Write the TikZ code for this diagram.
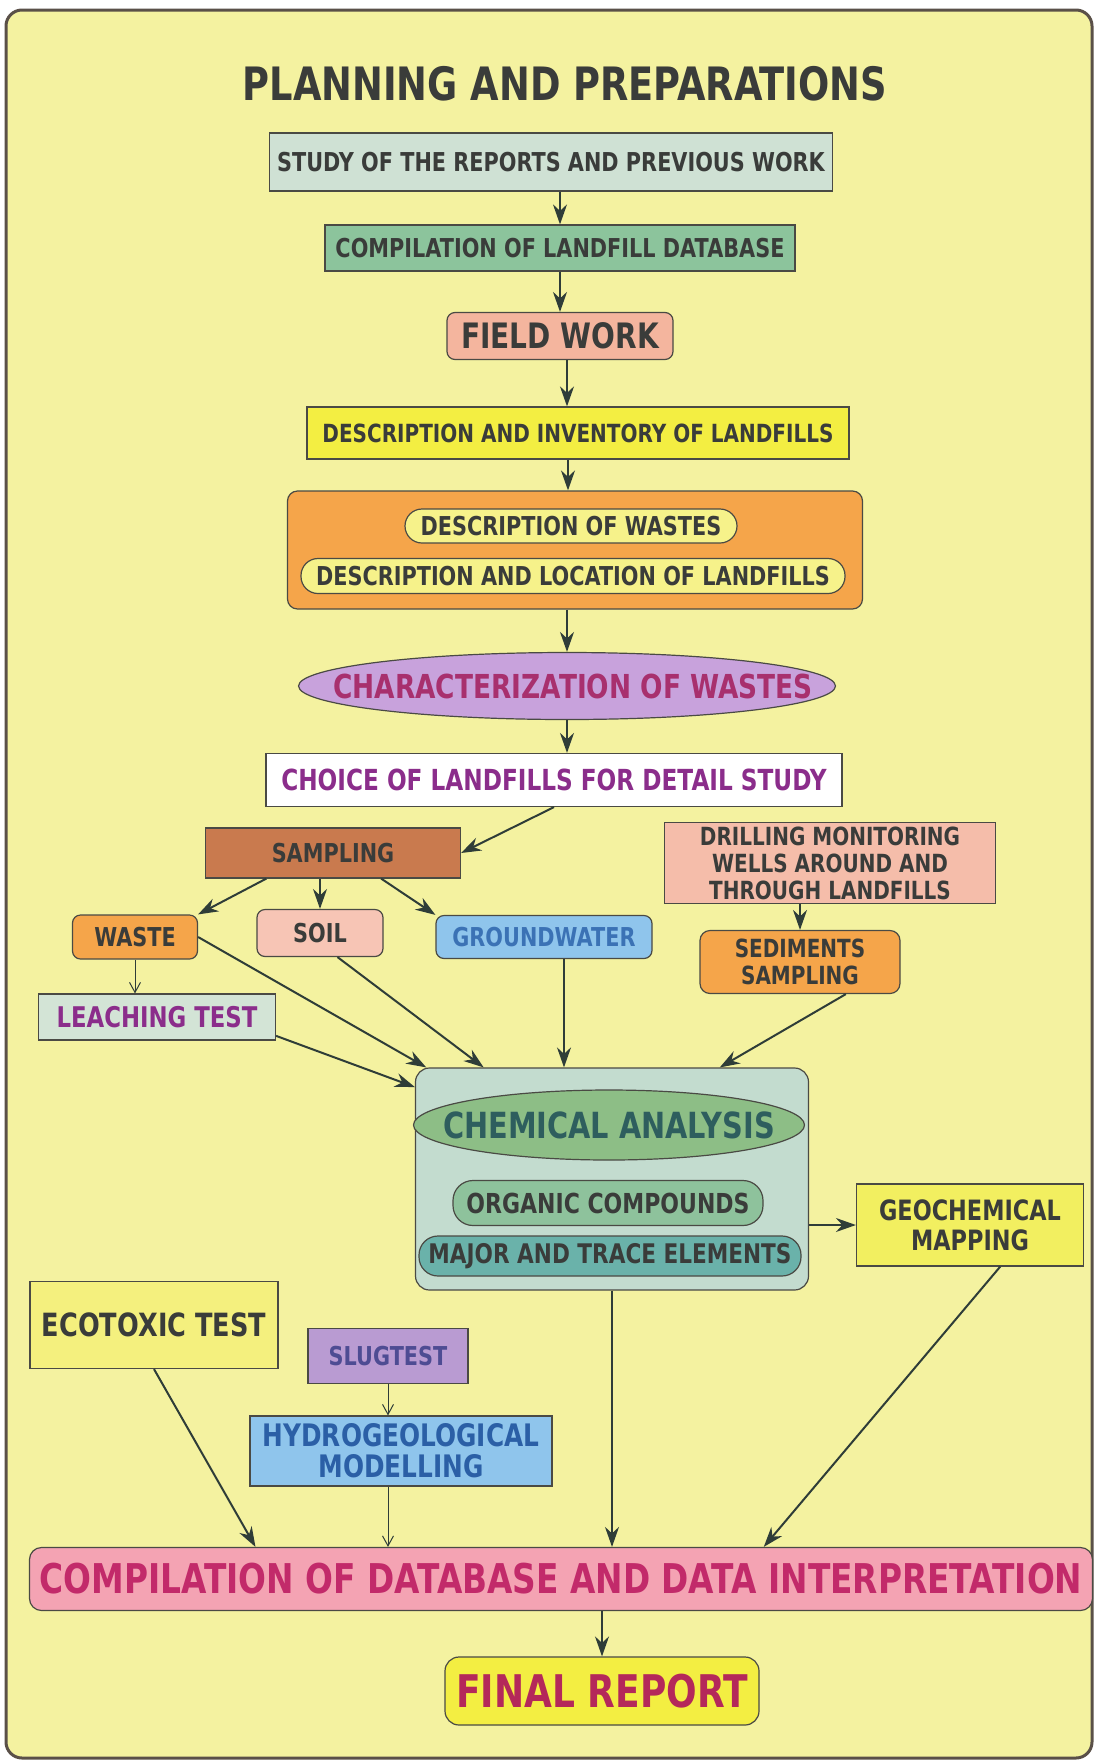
\documentclass[tikz,border=0pt]{standalone}
\usepackage{fontspec}
\setmainfont{DejaVu Sans}[FakeStretch=0.8]
\usetikzlibrary{arrows.meta,shapes.geometric}
\definecolor{paper}{HTML}{F4F2A0}
\definecolor{framec}{HTML}{5A5048}
\definecolor{edge}{HTML}{4A4A44}
\definecolor{ink}{HTML}{3A3C3A}
\definecolor{arrowc}{HTML}{2F3D38}
\definecolor{studyc}{HTML}{CFE1D4}
\definecolor{dbgreen}{HTML}{8CC49C}
\definecolor{salmon}{HTML}{F4B59E}
\definecolor{brightyellow}{HTML}{F3EE42}
\definecolor{orangec}{HTML}{F5A54A}
\definecolor{pillyellow}{HTML}{F6F28A}
\definecolor{lavender}{HTML}{C8A2DC}
\definecolor{plum}{HTML}{A8306E}
\definecolor{choicec}{HTML}{8B2D8B}
\definecolor{samplingc}{HTML}{C97A4E}
\definecolor{soilc}{HTML}{F7C5B5}
\definecolor{waterc}{HTML}{8FC5EC}
\definecolor{waterink}{HTML}{3B72B5}
\definecolor{drillc}{HTML}{F5BDAA}
\definecolor{leachc}{HTML}{D3E4D6}
\definecolor{chemc}{HTML}{C3DCCF}
\definecolor{chemgreen}{HTML}{8DBE86}
\definecolor{chemink}{HTML}{2E5E5E}
\definecolor{organicc}{HTML}{8EC29C}
\definecolor{majorc}{HTML}{6AB2AA}
\definecolor{geoc}{HTML}{F2EF60}
\definecolor{ecoc}{HTML}{F4F07E}
\definecolor{slugc}{HTML}{B99BD2}
\definecolor{slugink}{HTML}{4E4C93}
\definecolor{hydroink}{HTML}{2B5FA6}
\definecolor{interpink}{HTML}{F4A3B3}
\definecolor{interink}{HTML}{C22A6A}
\definecolor{reportink}{HTML}{B4285A}
\begin{document}
\begin{tikzpicture}[x=1pt,y=-1pt,
  fs/.style 2 args={font=\bfseries\fontsize{#1}{#2}\selectfont},
  box/.style={draw=edge,line width=1.2pt,inner sep=0pt,align=center,text=ink,fs={26}{28}},
  flow/.style={draw=arrowc,line width=2pt,-{Stealth[length=20pt,width=14pt]}},
  slim/.style={draw=arrowc,line width=1pt,-{Straight Barb[length=10pt,width=11pt]}}]
\useasboundingbox (0,0) rectangle (1096,1762);
\fill[white] (0,0) rectangle (1096,1762);
\draw[fill=paper,draw=framec,line width=3pt,rounded corners=16] (6,10) rectangle (1092,1758);
\node[fs={46}{50},text=ink] (title) at (565,84) {PLANNING AND PREPARATIONS};
\node[box,fill=studyc,minimum width=563,minimum height=58] (study) at (551,162) {STUDY OF THE REPORTS AND PREVIOUS WORK};
\node[box,fill=dbgreen,minimum width=470,minimum height=46] (landdb) at (560,248) {COMPILATION OF LANDFILL DATABASE};
\node[box,rounded corners=8,fill=salmon,minimum width=226,minimum height=47,fs={35}{38}] (field) at (560,336) {FIELD WORK};
\node[box,fill=brightyellow,minimum width=542,minimum height=52,fs={25}{28}] (inventory) at (578,433) {DESCRIPTION AND INVENTORY OF LANDFILLS};
\node[box,rounded corners=10,fill=orangec,minimum width=575,minimum height=118] (descr) at (575,550) {};
\node[box,rounded corners=17,fill=pillyellow,minimum width=332,minimum height=34] (wastes) at (571,526) {DESCRIPTION OF WASTES};
\node[box,rounded corners=17,fill=pillyellow,minimum width=544,minimum height=35] (location) at (573,576) {DESCRIPTION AND LOCATION OF LANDFILLS};
\node[box,ellipse,fill=lavender,text=plum,minimum width=537,minimum height=67,fs={33}{36}] (charact) at (567,686) {\makebox[0pt]{\hspace{12pt}CHARACTERIZATION OF WASTES}};
\node[box,fill=white,text=choicec,minimum width=576,minimum height=53,fs={29}{32}] (choice) at (554,780) {CHOICE OF LANDFILLS FOR DETAIL STUDY};
\node[box,fill=samplingc,minimum width=255,minimum height=50] (sampling) at (333,853) {SAMPLING};
\node[box,rounded corners=8,fill=orangec,minimum width=125,minimum height=44] (waste) at (135,937) {WASTE};
\node[box,rounded corners=8,fill=soilc,minimum width=126,minimum height=47] (soil) at (320,933) {SOIL};
\node[box,rounded corners=8,fill=waterc,text=waterink,minimum width=216,minimum height=43] (groundwater) at (544,937) {GROUNDWATER};
\node[box,fill=drillc,minimum width=331,minimum height=81,fs={25}{27}] (drilling) at (830,863) {DRILLING MONITORING\\WELLS AROUND AND\\THROUGH LANDFILLS};
\node[box,rounded corners=10,fill=orangec,minimum width=200,minimum height=63,fs={25}{27}] (sediments) at (800,962) {SEDIMENTS\\SAMPLING};
\node[box,fill=leachc,text=choicec,minimum width=237,minimum height=46,fs={28.5}{30}] (leaching) at (157,1017) {LEACHING TEST};
\node[box,rounded corners=14,fill=chemc,minimum width=393,minimum height=222] (chembox) at (612,1179) {};
\node[box,ellipse,fill=chemgreen,text=chemink,minimum width=391,minimum height=70,fs={36}{38}] (chemical) at (609,1125) {\makebox[0pt]{CHEMICAL ANALYSIS}};
\node[box,rounded corners=20,fill=organicc,minimum width=310,minimum height=45,fs={27.5}{30}] (organic) at (608,1203) {ORGANIC COMPOUNDS};
\node[box,rounded corners=19,fill=majorc,minimum width=382,minimum height=40,fs={27}{30}] (major) at (610,1256) {MAJOR AND TRACE ELEMENTS};
\node[box,fill=geoc,minimum width=227,minimum height=82,fs={28}{30}] (geochem) at (970,1225) {GEOCHEMICAL\\MAPPING};
\node[box,fill=ecoc,minimum width=248,minimum height=87,fs={32}{34}] (ecotoxic) at (154,1325) {ECOTOXIC TEST};
\node[box,fill=slugc,text=slugink,minimum width=160,minimum height=55] (slugtest) at (388,1356) {SLUGTEST};
\node[box,fill=waterc,text=hydroink,minimum width=302,minimum height=70,fs={31}{31}] (hydro) at (401,1451) {HYDROGEOLOGICAL\\MODELLING};
\node[box,rounded corners=12,fill=interpink,text=interink,minimum width=1063,minimum height=63,fs={41}{44}] (interpret) at (561,1579) {COMPILATION OF DATABASE AND DATA INTERPRETATION};
\node[box,rounded corners=14,fill=brightyellow,text=reportink,minimum width=314,minimum height=68,fs={45}{48}] (report) at (602,1691) {FINAL REPORT};
\draw[flow] (landdb.north |- study.south) -- (landdb.north);
\draw[flow] (landdb.south) -- (field.north);
\draw[flow] ([xshift=7]field.south) -- ([xshift=7]field.south |- inventory.north);
\draw[flow] ([xshift=-10]inventory.south) -- ([xshift=-10]inventory.south |- descr.north);
\draw[flow] (charact.north |- descr.south) -- (charact.north);
\draw[flow] (charact.south) -- (charact.south |- choice.north);
\draw[flow] (choice.south) -- (sampling.east);
\draw[flow] (sampling.-159) -- (waste.north east);
\draw[flow] (soil.north |- sampling.south) -- (soil.north);
\draw[flow] (sampling.-28) -- (groundwater.north west);
\draw[flow] (sediments.north |- drilling.south) -- (sediments.north);
\draw[slim] (waste.south) -- (waste.south |- leaching.north);
\draw[flow] (waste.east) -- (chembox.149);
\draw[flow] (soil.-54) -- (chembox.139);
\draw[flow] ([xshift=20]groundwater.south) -- ([xshift=20]groundwater.south |- chembox.north);
\draw[flow] (sediments.-35) -- (chembox.46);
\draw[flow] (leaching.-9) -- (chembox.155);
\draw[flow] (chembox.east |- geochem.west) -- (geochem.west);
\draw[slim] (slugtest.south) -- (slugtest.south |- hydro.north);
\draw[flow] (ecotoxic.south) -- (interpret.174);
\draw[slim] (hydro.south -| slugtest.south) -- (slugtest.south |- interpret.north);
\draw[flow] (chembox.south) -- (chembox.south |- interpret.north);
\draw[flow] (geochem.-54) -- (interpret.9);
\draw[flow] (report.north |- interpret.south) -- (report.north);
\end{tikzpicture}
\end{document}
